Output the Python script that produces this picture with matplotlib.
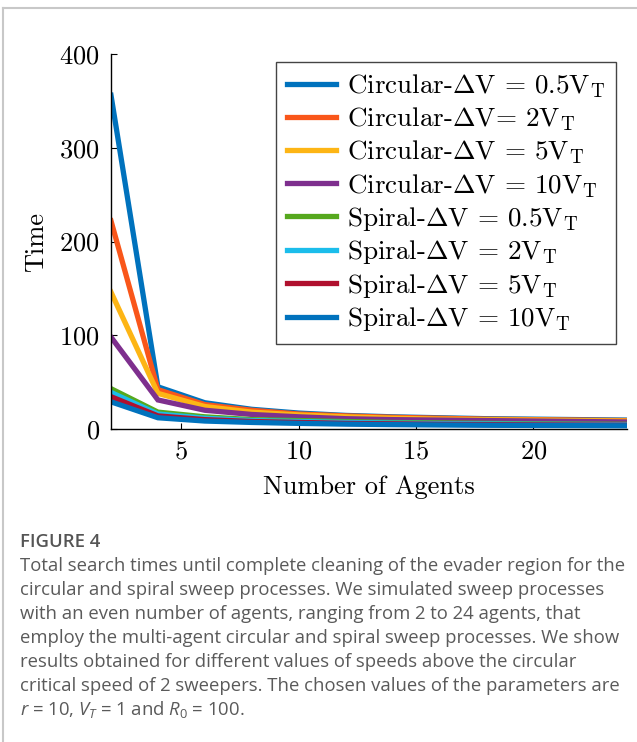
import numpy as np
import matplotlib
matplotlib.use('Agg')
import matplotlib.pyplot as plt
from matplotlib.lines import Line2D

# Data: even number of agents, 2..24
agents = [2, 4, 6, 8, 10, 12, 14, 16, 18, 20, 22, 24]

circ_05 = [356, 45, 28, 21, 17, 14.5, 13, 12, 11, 10.5, 10, 9.5]
circ_2 = [222, 42, 26, 20, 16, 14, 12.5, 11.5, 10.5, 10, 9.5, 9]
circ_5 = [146, 38, 24, 18, 15, 13, 11.5, 10.5, 10, 9.5, 9, 8.5]
circ_10 = [98, 31, 20, 15.5, 13, 11, 10, 9.5, 9, 8.5, 8, 7.5]
spir_05 = [43, 18, 13, 10, 9, 8, 7, 6.5, 6, 5.5, 5.2, 5]
spir_2 = [39, 16, 11.5, 9, 8, 7, 6.3, 5.8, 5.4, 5, 4.8, 4.6]
spir_5 = [34.5, 14, 10, 8, 7, 6, 5.5, 5, 4.7, 4.4, 4.2, 4]
spir_10 = [29, 12, 8.5, 7, 6, 5.2, 4.7, 4.3, 4, 3.8, 3.6, 3.4]

series = [circ_05, circ_2, circ_5, circ_10, spir_05, spir_2, spir_5, spir_10]
labels = [r'Circular-$\Delta\mathrm{V}$ = 0.5$\mathrm{V}_{\mathrm{T}}$',
          r'Circular-$\Delta\mathrm{V}$= 2$\mathrm{V}_{\mathrm{T}}$',
          r'Circular-$\Delta\mathrm{V}$ = 5$\mathrm{V}_{\mathrm{T}}$',
          r'Circular-$\Delta\mathrm{V}$ = 10$\mathrm{V}_{\mathrm{T}}$',
          r'Spiral-$\Delta\mathrm{V}$ = 0.5$\mathrm{V}_{\mathrm{T}}$',
          r'Spiral-$\Delta\mathrm{V}$ = 2$\mathrm{V}_{\mathrm{T}}$',
          r'Spiral-$\Delta\mathrm{V}$ = 5$\mathrm{V}_{\mathrm{T}}$',
          r'Spiral-$\Delta\mathrm{V}$ = 10$\mathrm{V}_{\mathrm{T}}$']
colors = ['#0072BD', '#F9561A', '#FDB515', '#7E2F8E',
          '#56A81E', '#1BBDEB', '#B0102E', '#0072BD']

xticks = [5, 10, 15, 20]
yticks = [0, 100, 200, 300, 400]

caption_title = 'FIGURE 4'
caption_lines = [
    'Total search times until complete cleaning of the evader region for the',
    'circular and spiral sweep processes. We simulated sweep processes',
    'with an even number of agents, ranging from 2 to 24 agents, that',
    'employ the multi-agent circular and spiral sweep processes. We show',
    'results obtained for different values of speeds above the circular',
    'critical speed of 2 sweepers. The chosen values of the parameters are',
    r'$r$ = 10, $V_T$ = 1 and $R_0$ = 100.',
]

plt.rcParams['font.family'] = 'cmr10'
plt.rcParams['mathtext.fontset'] = 'cm'
plt.rcParams['axes.formatter.use_mathtext'] = True
plt.rcParams['mathtext.rm'] = 'Open Sans'
plt.rcParams['mathtext.it'] = 'Open Sans:italic'

fig = plt.figure(figsize=(6.37, 7.42), dpi=100)
ax = fig.add_axes([111/637, 1-429/742, 516/637, 375/742])

for ys, lab, c in zip(series, labels, colors):
    ax.plot(agents, ys, color=c, lw=3.8, label=lab, solid_joinstyle='miter')

ax.set_xlim(2, 24)
ax.set_ylim(0, 400)
ax.set_xticks(xticks)
ax.set_yticks(yticks)
ax.spines['top'].set_visible(False)
ax.spines['right'].set_visible(False)
for s in ['left', 'bottom']:
    ax.spines[s].set_linewidth(1.0)
ax.tick_params(direction='in', length=4, width=0.8, labelsize=19, pad=8)
ax.set_xlabel('Number of Agents', fontsize=19, labelpad=8)
ax.set_ylabel('Time', fontsize=19, labelpad=8)

leg = ax.legend(loc='upper right', bbox_to_anchor=(616/637, 1-62/742),
                bbox_transform=fig.transFigure, borderaxespad=0,
                fontsize=19.5, handlelength=1.8, handletextpad=0.4,
                labelspacing=0.2, borderpad=0.4, fancybox=False,
                framealpha=1, edgecolor='#444444')
leg.get_frame().set_linewidth(1.0)

# page frame lines
fig.add_artist(Line2D([3/637, 3/637], [0, 1-8/742], color='#c8c8c8', lw=1.5))
fig.add_artist(Line2D([3/637, 1], [1-8/742, 1-8/742], color='#c8c8c8', lw=1.5))

# caption
fig.text(20/637, 1-542/742, caption_title, fontsize=13.3, color='#555555',
         family='Open Sans', weight='semibold', va='center')
for i, line in enumerate(caption_lines):
    t = fig.text(20/637, 1-(566+24*i)/742, line, fontsize=13.3, color='#5a5a5a',
                 family='Open Sans', va='center')
    t.set_math_fontfamily('custom')

fig.savefig('out.png', dpi=100)
